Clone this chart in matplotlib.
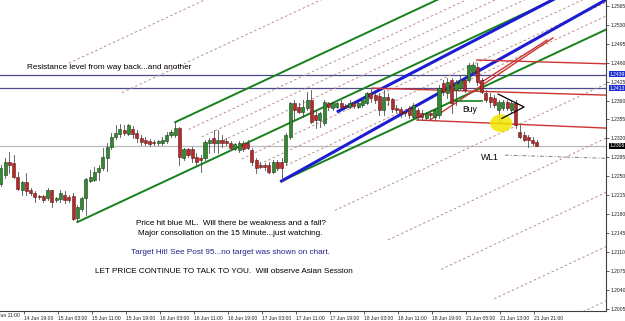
import numpy as np
import matplotlib.pyplot as plt
from matplotlib.patches import Rectangle, Ellipse
import matplotlib.transforms as mtransforms

plt.rcParams['font.family'] = ['Liberation Sans', 'DejaVu Sans']

# hourly candles, 14 Jun 11:00 onwards
opens = [1.2235, 1.2252, 1.2276, 1.2274, 1.2248, 1.2224, 1.2239, 1.2224, 1.2218, 1.2213,
         1.2213, 1.2209, 1.2224, 1.2205, 1.2207, 1.2216, 1.2211, 1.2213, 1.2172, 1.2190,
         1.2209, 1.2241, 1.2242, 1.2257, 1.2265, 1.2283, 1.2304, 1.2322, 1.2328, 1.2335,
         1.2328, 1.2337, 1.2330, 1.2320, 1.2317, 1.2315, 1.2313, 1.2311, 1.2311, 1.2315,
         1.2326, 1.2326, 1.2339, 1.2283, 1.2300, 1.2300, 1.2285, 1.2283, 1.2283, 1.2311,
         1.2320, 1.2311, 1.2317, 1.2315, 1.2311, 1.2300, 1.2298, 1.2311, 1.2311, 1.2298,
         1.2279, 1.2270, 1.2270, 1.2270, 1.2257, 1.2276, 1.2276, 1.2276, 1.2322, 1.2385,
         1.2378, 1.2369, 1.2376, 1.2391, 1.2363, 1.2354, 1.2348, 1.2385, 1.2376, 1.2378,
         1.2385, 1.2380, 1.2378, 1.2385, 1.2378, 1.2381, 1.2385, 1.2404, 1.2400, 1.2398,
         1.2372, 1.2396, 1.2393, 1.2376, 1.2374, 1.2369, 1.2376, 1.2359, 1.2372, 1.2367,
         1.2357, 1.2367, 1.2359, 1.2363, 1.2422, 1.2404, 1.2428, 1.2409, 1.2413, 1.2428,
         1.2428, 1.2443, 1.2452, 1.2428, 1.2404, 1.2396, 1.2394, 1.2372, 1.2376, 1.2387,
         1.2372, 1.2385, 1.2331, 1.2326, 1.2322, 1.2317, 1.2313]
highs = [1.2270, 1.2283, 1.2294, 1.2289, 1.2257, 1.2241, 1.2255, 1.2228, 1.2222, 1.2215,
         1.2216, 1.2229, 1.2225, 1.2211, 1.2224, 1.2222, 1.2215, 1.2218, 1.2196, 1.2211,
         1.2246, 1.2261, 1.2267, 1.2270, 1.2302, 1.2311, 1.2330, 1.2344, 1.2346, 1.2344,
         1.2346, 1.2343, 1.2335, 1.2326, 1.2322, 1.2318, 1.2317, 1.2317, 1.2322, 1.2331,
         1.2335, 1.2350, 1.2341, 1.2302, 1.2302, 1.2304, 1.2293, 1.2289, 1.2317, 1.2320,
         1.2335, 1.2335, 1.2326, 1.2320, 1.2315, 1.2311, 1.2315, 1.2315, 1.2317, 1.2302,
         1.2283, 1.2276, 1.2274, 1.2276, 1.2279, 1.2279, 1.2283, 1.2330, 1.2387, 1.2391,
         1.2385, 1.2391, 1.2406, 1.2409, 1.2372, 1.2369, 1.2391, 1.2387, 1.2387, 1.2387,
         1.2391, 1.2383, 1.2391, 1.2387, 1.2387, 1.2394, 1.2406, 1.2413, 1.2404, 1.2404,
         1.2409, 1.2404, 1.2394, 1.2381, 1.2378, 1.2372, 1.2380, 1.2385, 1.2376, 1.2372,
         1.2369, 1.2372, 1.2376, 1.2419, 1.2428, 1.2432, 1.2432, 1.2428, 1.2437, 1.2432,
         1.2459, 1.2461, 1.2459, 1.2432, 1.2409, 1.2404, 1.2400, 1.2391, 1.2391, 1.2391,
         1.2391, 1.2391, 1.2344, 1.2331, 1.2326, 1.2322, 1.2317]
lows = [1.2231, 1.2246, 1.2255, 1.2246, 1.2224, 1.2215, 1.2215, 1.2215, 1.2203, 1.2207,
        1.2202, 1.2205, 1.2192, 1.2203, 1.2202, 1.2200, 1.2203, 1.2168, 1.2165, 1.2185,
        1.2178, 1.2239, 1.2241, 1.2242, 1.2261, 1.2259, 1.2300, 1.2318, 1.2322, 1.2326,
        1.2326, 1.2320, 1.2313, 1.2307, 1.2307, 1.2305, 1.2307, 1.2307, 1.2307, 1.2311,
        1.2322, 1.2322, 1.2270, 1.2279, 1.2285, 1.2276, 1.2270, 1.2257, 1.2279, 1.2292,
        1.2294, 1.2292, 1.2304, 1.2307, 1.2298, 1.2298, 1.2294, 1.2296, 1.2300, 1.2270,
        1.2255, 1.2265, 1.2261, 1.2255, 1.2255, 1.2261, 1.2241, 1.2270, 1.2318, 1.2354,
        1.2367, 1.2359, 1.2372, 1.2348, 1.2339, 1.2341, 1.2344, 1.2372, 1.2372, 1.2376,
        1.2376, 1.2376, 1.2376, 1.2376, 1.2376, 1.2378, 1.2383, 1.2387, 1.2385, 1.2363,
        1.2363, 1.2381, 1.2369, 1.2369, 1.2359, 1.2361, 1.2357, 1.2356, 1.2354, 1.2354,
        1.2354, 1.2357, 1.2354, 1.2357, 1.2400, 1.2394, 1.2367, 1.2381, 1.2409, 1.2406,
        1.2424, 1.2437, 1.2419, 1.2404, 1.2387, 1.2378, 1.2378, 1.2348, 1.2372, 1.2372,
        1.2369, 1.2339, 1.2320, 1.2315, 1.2304, 1.2307, 1.2305]
closes = [1.2265, 1.2276, 1.2270, 1.2248, 1.2226, 1.2239, 1.2222, 1.2218, 1.2211, 1.2211,
          1.2205, 1.2224, 1.2202, 1.2209, 1.2218, 1.2205, 1.2205, 1.2170, 1.2192, 1.2209,
          1.2244, 1.2248, 1.2257, 1.2265, 1.2285, 1.2304, 1.2322, 1.2330, 1.2337, 1.2330,
          1.2344, 1.2328, 1.2320, 1.2313, 1.2311, 1.2309, 1.2311, 1.2315, 1.2317, 1.2326,
          1.2331, 1.2339, 1.2285, 1.2300, 1.2289, 1.2283, 1.2276, 1.2279, 1.2313, 1.2317,
          1.2311, 1.2317, 1.2311, 1.2311, 1.2302, 1.2309, 1.2311, 1.2300, 1.2302, 1.2276,
          1.2265, 1.2267, 1.2267, 1.2257, 1.2276, 1.2265, 1.2265, 1.2326, 1.2385, 1.2372,
          1.2369, 1.2378, 1.2391, 1.2350, 1.2354, 1.2367, 1.2387, 1.2378, 1.2385, 1.2385,
          1.2378, 1.2378, 1.2385, 1.2380, 1.2385, 1.2391, 1.2404, 1.2394, 1.2391, 1.2372,
          1.2396, 1.2391, 1.2374, 1.2372, 1.2367, 1.2367, 1.2363, 1.2381, 1.2359, 1.2359,
          1.2367, 1.2363, 1.2372, 1.2413, 1.2406, 1.2424, 1.2385, 1.2422, 1.2428, 1.2409,
          1.2456, 1.2456, 1.2424, 1.2406, 1.2391, 1.2387, 1.2381, 1.2387, 1.2387, 1.2376,
          1.2385, 1.2344, 1.2322, 1.2317, 1.2317, 1.2311, 1.2306]

time_labels = ['14 Jun 11:00', '14 Jun 19:00', '15 Jun 03:00', '15 Jun 11:00', '15 Jun 19:00',
               '16 Jun 03:00', '16 Jun 11:00', '16 Jun 19:00', '17 Jun 03:00', '17 Jun 11:00',
               '17 Jun 19:00', '18 Jun 03:00', '18 Jun 11:00', '18 Jun 19:00', '21 Jun 05:00',
               '21 Jun 13:00', '21 Jun 21:00']

# Andrews pitchfork pivots (bar, price)
fork_a = (18, 1.2165)
fork_b = (41, 1.2350)
fork_c = (66, 1.2241)
fork_levels = [3, 2, 0.75, 0.5, 0.25, -0.25, -0.5, -0.75, -2, -3, -4, -5, -6]

resistance = [1.2438, 1.2413]
last_price = 1.2306

blue_lines = [[(66, 1.2241), (124.4, 1.2498)], [(79.3, 1.2370), (89.8, 1.2413)]]
red_fork = [[(87.3, 1.2413), (142.3, 1.2400)], [(111.9, 1.2465), (142.3, 1.2458)],
            [(97.8, 1.2354), (142.3, 1.2339)]]
red_steep = [[(100.9, 1.2354), (129.8, 1.2506)], [(112.6, 1.2422), (128.4, 1.2502)]]
buy_line = [(106.8, 1.2389), (113.1, 1.2389)]
triangle = [(116.9, 1.2402), (123.0, 1.2378), (117.8, 1.2357)]
wl1_line = [(118.5, 1.2289), (142.3, 1.2283)]

fig = plt.figure(figsize=(6.25, 3.21), dpi=100)
ax = fig.add_axes([0, 10 / 321, 606 / 625, 311 / 321])

# horizontal levels
for r in resistance:
    ax.axhline(r, color='#4a4a8c', lw=0.9, zorder=1)
ax.axhline(last_price, color='#b8b8b8', lw=0.9, zorder=1)


def extend(p0, p1, x_end=160):
    s = (p1[1] - p0[1]) / (p1[0] - p0[0])
    return [p0[0], x_end], [p0[1], p0[1] + s * (x_end - p0[0])]


# green pitchfork
mid_b = ((fork_b[0] + fork_c[0]) / 2, (fork_b[1] + fork_c[1]) / 2)
slope = (mid_b[1] - fork_a[1]) / (mid_b[0] - fork_a[0])
for p in (fork_a, fork_b, fork_c):
    ax.plot([p[0], 160], [p[1], p[1] + slope * (160 - p[0])], color='#16801a', lw=1.4, zorder=2)
for k in fork_levels:
    t = (1 - k) / 2
    x0 = fork_b[0] + t * (fork_c[0] - fork_b[0])
    y0 = fork_b[1] + t * (fork_c[1] - fork_b[1])
    ax.plot([x0, 160], [y0, y0 + slope * (160 - x0)], color='#c08a8a', lw=0.7,
            dashes=(2.5, 2.5), zorder=1)

# blue lines
for a, b in blue_lines:
    xs, ys = extend(a, b)
    ax.plot(xs, ys, color='#1c1cd0', lw=2.2, zorder=3)

# red lines
for a, b in red_fork + red_steep:
    ax.plot([a[0], b[0]], [a[1], b[1]], color='#cc3333', lw=1.0, zorder=3)
ax.plot([buy_line[0][0], buy_line[1][0]], [buy_line[0][1], buy_line[1][1]], color='#16801a',
        lw=1.2, zorder=3)

# wl1
ax.plot([wl1_line[0][0], wl1_line[1][0]], [wl1_line[0][1], wl1_line[1][1]], color='#808080',
        lw=0.7, dashes=(4, 2, 1, 2), zorder=1)

# candles
for i in range(len(opens)):
    o, hi, lo, c = opens[i], highs[i], lows[i], closes[i]
    up = c >= o
    ax.plot([i, i], [lo, hi], color='#505050', lw=0.6, zorder=4)
    body = max(abs(c - o), 0.00005)
    ax.add_patch(Rectangle((i - 0.36, min(o, c)), 0.72, body,
                           facecolor='#2e8b2e' if up else '#b82a2a',
                           edgecolor='#1c3c1c' if up else '#5a1a1a', lw=0.4, zorder=5))

# yellow marker and triangle
ax.add_patch(Ellipse((117.6, 1.2348), 5.2, 0.0033, facecolor='#f2e600', edgecolor='none',
                     alpha=0.85, zorder=6))
ax.plot([p[0] for p in triangle], [p[1] for p in triangle], color='black', lw=0.9, zorder=7)

# annotations
fs = 5.9
ax.text(6.2, 1.2452, 'Resistance level from way back...and another', fontsize=fs, va='center')
ax.text(54, 1.2163, 'Price hit blue ML.  Will there be weakness and a fall?', fontsize=fs,
        ha='center', va='center')
ax.text(54, 1.2144, 'Major consoliation on the 15 Minute...just watching.', fontsize=fs,
        ha='center', va='center')
ax.text(54, 1.2109, 'Target Hit! See Post 95...no target was shown on chart.', fontsize=fs,
        ha='center', va='center', color='#22228a')
ax.text(22.1, 1.2074, 'LET PRICE CONTINUE TO TALK TO YOU.  Will observe Asian Session',
        fontsize=fs, va='center')
ax.text(110.3, 1.2374, 'Buy', fontsize=6.2, ha='center', va='center')
ax.text(112.9, 1.2285, 'WL1', fontsize=6.2, va='center')

# axes styling
for s in ('left', 'top'):
    ax.spines[s].set_visible(False)
for s in ('right', 'bottom'):
    ax.spines[s].set_color('#404040')
    ax.spines[s].set_linewidth(0.8)
ax.yaxis.tick_right()
yt = np.arange(1.2005, 1.2566, 0.0035)
ax.set_yticks(yt)
ax.set_yticklabels(['%.4f' % v for v in yt])
ax.tick_params(axis='y', labelsize=3.6, length=2, width=0.5, pad=1.5, colors='#202020')
xt = np.arange(len(time_labels)) * 8 - 2.55
ax.set_xticks(xt[1:])
ax.set_xticklabels(time_labels[1:], ha='left')
ax.tick_params(axis='x', labelsize=3.6, length=2, width=0.5, pad=1.5, colors='#202020')
# first label sits partly left of the frame, as on the original screenshot
trx = mtransforms.blended_transform_factory(ax.transData, ax.transAxes)
ax.text(xt[0] + 0.35, -0.0075, time_labels[0], transform=trx, fontsize=3.6, color='#202020',
        ha='left', va='top', clip_on=False)

ax.set_xlim(-0.19, 142.26)
ax.set_ylim(1.20004, 1.25761)

tr = mtransforms.blended_transform_factory(ax.transAxes, ax.transData)
for v, bg in ((1.2439, '#1e2ed0'), (1.2413, '#1e2ed0'), (last_price, 'black')):
    ax.text(1.006, v, '%.4f' % v, transform=tr, fontsize=3.6, color='white', va='center',
            bbox=dict(boxstyle='square,pad=0.15', facecolor=bg, edgecolor='none'), clip_on=False)

fig.savefig('out.png', dpi=100)
